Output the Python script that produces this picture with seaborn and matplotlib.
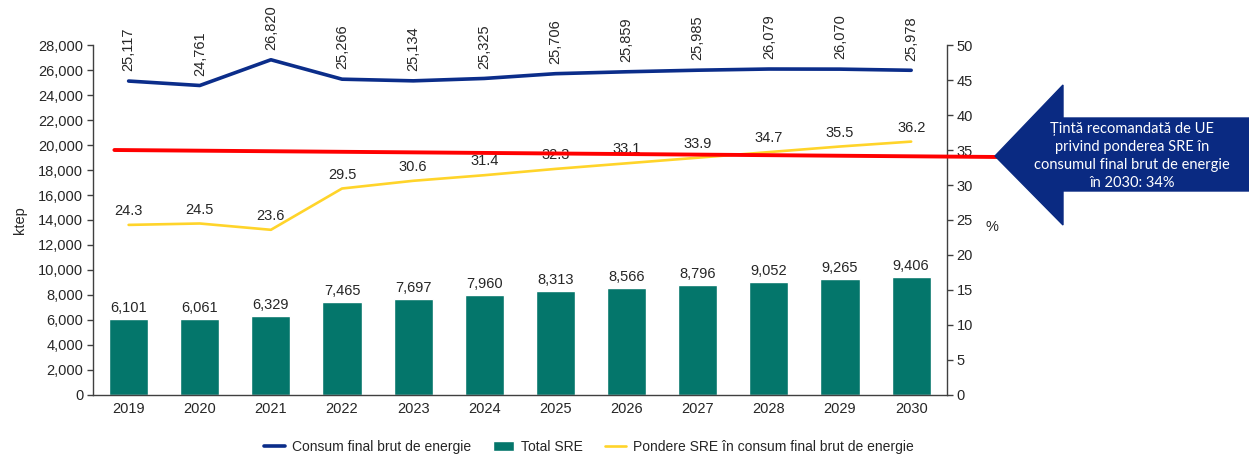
import numpy as np
import pandas as pd
import matplotlib
matplotlib.use("Agg")
import matplotlib.pyplot as plt
from matplotlib.patches import Polygon, Patch
from matplotlib.lines import Line2D
import seaborn as sns

# data
years = ["2019", "2020", "2021", "2022", "2023", "2024",
         "2025", "2026", "2027", "2028", "2029", "2030"]
consum_final = [25117, 24761, 26820, 25266, 25134, 25325,
                25706, 25859, 25985, 26079, 26070, 25978]
total_sre = [6101, 6061, 6329, 7465, 7697, 7960,
             8313, 8566, 8796, 9052, 9265, 9406]
pondere_sre = [24.3, 24.5, 23.6, 29.5, 30.6, 31.4,
               32.3, 33.1, 33.9, 34.7, 35.5, 36.2]
tinta_start, tinta_end = 35.0, 34.0

sns.set_style("white")
plt.rcParams["font.family"] = ["Liberation Sans", "DejaVu Sans"]

df = pd.DataFrame({"an": years, "pos": np.arange(len(years)),
                   "consum": consum_final, "sre": total_sre, "pondere": pondere_sre})

c_blue = "#0B2D8A"
c_teal = "#04766B"
c_yellow = "#FFD42A"
c_red = "#FF0000"

fig = plt.figure(figsize=(12.49, 4.57), dpi=100)
ax = fig.add_axes([0.0745, 0.1357, 0.6835, 0.7658])
ax2 = ax.twinx()

sns.barplot(data=df, x="pos", y="sre", color=c_teal, width=0.55,
            saturation=1, ax=ax, native_scale=True)
sns.lineplot(data=df, x="pos", y="consum", color=c_blue, lw=2.6, ax=ax)
sns.lineplot(data=df, x="pos", y="pondere", color=c_yellow, lw=1.9, ax=ax2)

ax.set_xlim(-0.5, 11.5)
ax.set_ylim(0, 28000)
ax.set_yticks(np.arange(0, 28001, 2000))
ax.set_yticklabels([f"{v:,}" for v in range(0, 28001, 2000)], fontsize=10.5)
ax.set_xticks(df["pos"])
ax.set_xticklabels(years, fontsize=10.5)
ax.set_xlabel("")
ax.set_ylabel("ktep", fontsize=10.5, labelpad=8)
ax.tick_params(axis="y", length=4, width=1, color="#404040", pad=3)
ax.tick_params(axis="x", length=0, pad=5)

ax2.set_ylim(0, 50)
ax2.set_yticks(np.arange(0, 51, 5))
ax2.set_yticklabels([str(v) for v in range(0, 51, 5)], fontsize=10.5)
ax2.set_ylabel("%", fontsize=10.5, rotation=0, labelpad=14)
ax2.tick_params(axis="y", length=4, width=1, color="#404040", pad=3)

for a in (ax, ax2):
    a.spines["top"].set_visible(False)
    for s in ("left", "right", "bottom"):
        a.spines[s].set_color("#404040")
        a.spines[s].set_linewidth(1)
ax.spines["right"].set_visible(False)
ax2.spines["left"].set_visible(False)
ax2.spines["bottom"].set_visible(False)

# value labels
for p, v in zip(df["pos"], total_sre):
    ax.annotate(f"{v:,}", (p, v), xytext=(0, 3), textcoords="offset points",
                ha="center", va="bottom", fontsize=10.5)
for p, v in zip(df["pos"], consum_final):
    ax.annotate(f"{v:,}", (p, v), xytext=(0, 7), textcoords="offset points",
                ha="center", va="bottom", rotation=90, fontsize=10.5,
                annotation_clip=False)
for p, v in zip(df["pos"], pondere_sre):
    ax2.annotate(f"{v:.1f}", (p, v), xytext=(0, 5), textcoords="offset points",
                 ha="center", va="bottom", fontsize=10.5)

# EU target line, running out to the callout arrow
ax2.plot([-0.2, 12.25], [tinta_start, tinta_end], color=c_red, lw=2.8,
         clip_on=False, zorder=5)

# callout arrow (figure pixels)
W, H = 1249, 457
pts = [(995, 156), (1063, 85), (1063, 118), (1249, 118),
       (1249, 191), (1063, 191), (1063, 225)]
arrow = Polygon([(x / W, 1 - y / H) for x, y in pts], closed=True,
                transform=fig.transFigure, facecolor="#0A2A82",
                edgecolor="#0A2A82", zorder=6)
fig.patches.append(arrow)
fig.text(1132 / W, 1 - 156 / H,
         "Țintă recomandată de UE\nprivind ponderea SRE în\nconsumul final brut de energie\nîn 2030: 34%",
         color="white", ha="center", va="center", fontsize=10.5,
         family=["Lato", "DejaVu Sans"], linespacing=1.35, zorder=7)

handles = [Line2D([], [], color=c_blue, lw=2.6),
           Patch(facecolor=c_teal),
           Line2D([], [], color=c_yellow, lw=1.9)]
labels = ["Consum final brut de energie", "Total SRE",
          "Pondere SRE în consum final brut de energie"]
fig.legend(handles, labels, loc="center", bbox_to_anchor=(589 / W, 1 - 447 / H),
           ncol=3, frameon=False, fontsize=10, handlelength=1.5,
           columnspacing=1.6, handletextpad=0.5)

fig.savefig("out.png", dpi=100)
